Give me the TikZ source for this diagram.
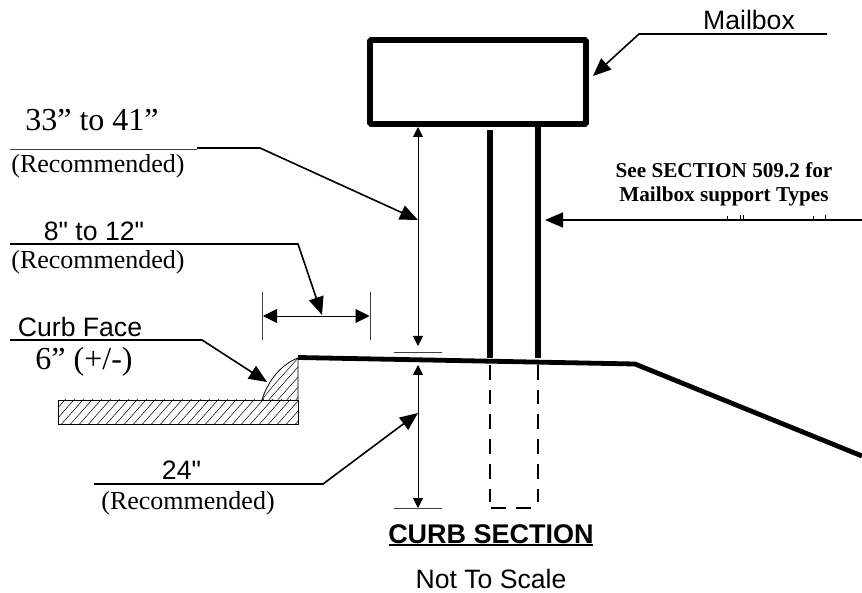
\documentclass[tikz,border=0pt]{standalone}
\usepackage{fontspec}
\setmainfont{Liberation Serif}
\newfontfamily\arial{Liberation Sans}
\usetikzlibrary{arrows.meta,patterns}
\tikzset{
  x=1pt,y=-1pt,
  heavy/.style={line width=5.4pt,line cap=butt},
  box/.style={line width=5.6pt,draw=black,rounded corners=1pt},
  leader/.style={line width=1.6pt,-{Triangle[width=15pt,length=18pt]}},
  dim/.style={line width=0.9pt,{Triangle[width=10pt,length=10pt]}-{Triangle[width=10pt,length=10pt]}},
  dimwide/.style={line width=0.9pt,{Triangle[width=14pt,length=14pt]}-{Triangle[width=14pt,length=14pt]}},
  tick/.style={line width=0.7pt,draw=black!75},
  hidden/.style={line width=2pt,dash pattern=on 14.7pt off 10pt},
  sans/.style={font=\arial\fontsize{26.6}{26.6}\selectfont,inner sep=0pt},
  serif/.style={font=\fontsize{26}{26}\selectfont,inner sep=0pt},
  serifbig/.style={font=\fontsize{32}{32}\selectfont,inner sep=0pt},
  note/.style={font=\bfseries\fontsize{21.2}{24.6}\selectfont,inner sep=0pt,align=center},
  hatchline/.style={line width=0.5pt},
}
\begin{document}
\begin{tikzpicture}
\useasboundingbox (0,0) rectangle (862,593);
% mailbox
\node[box,minimum width=216pt,minimum height=84pt,inner sep=0pt,outer sep=0pt,anchor=north west] (mailbox) at (370,40) {};
% posts
\coordinate (p1t) at (490,130); \coordinate (p1b) at (490,358);
\coordinate (p2t) at (538,124); \coordinate (p2b) at (538,358);
\draw[heavy] (p1t) -- (p1b);
\draw[heavy] (p2t) -- (p2b);
% ground
\coordinate (g0) at (298,357.5); \coordinate (g1) at (635,364); \coordinate (g2) at (862,456);
\draw[line width=4.8pt,line join=miter] (g0) -- (g1) -- (g2);
% hidden post
\coordinate (h1) at (490,365); \coordinate (h2) at (538,365);
\coordinate (h1b) at (490,502); \coordinate (h2b) at (538,502);
\coordinate (f1) at (490.7,508); \coordinate (f2) at (531,508);
\draw[hidden] (h1) -- (h1b);
\draw[hidden] (h2) -- (h2b);
\draw[line width=2pt,dash pattern=on 15.3pt off 9.7pt] (f1) -- (f2);
% curb
\coordinate (c0) at (58,400); \coordinate (c1) at (298,424); \coordinate (ct) at (298,358); \coordinate (cb) at (262,400);
\begin{scope}
\clip (58,400) rectangle (298,424);
\foreach \i in {0,...,30} \draw[hatchline] (40+\i*9,428) -- (72+\i*9,392);
\end{scope}
\begin{scope}
\clip (262,400) .. controls (272,386) and (286,372) .. (298,358) -- (298,400) -- cycle;
\foreach \i in {0,...,14} \draw[hatchline] (240+\i*9,412) -- (312+\i*9,331);
\end{scope}
\draw[line width=0.8pt] (c0) rectangle (c1);
\draw[line width=0.8pt] (cb) .. controls (268,380) and (282,364) .. (ct) -- (298,400);
\draw[line width=0.5pt] (cb) .. controls (272,386) and (286,372) .. (ct);
% dimension ticks
\coordinate (t1a) at (394,352); \coordinate (t1b) at (442,352);
\coordinate (t2a) at (394,508); \coordinate (t2b) at (442,508);
\draw[tick] (t1a) -- (t1b);
\draw[tick] (t2a) -- (t2b);
\coordinate (dA) at (418,127); \coordinate (dB) at (418,346);
\coordinate (dC) at (418,365); \coordinate (dD) at (418,508);
\draw[dim] (dA) -- (dB);
\draw[dim] (dC) -- (dD);
% 8-12 dimension
\coordinate (w1) at (262,292); \coordinate (w1b) at (262,340);
\coordinate (w2) at (370,292); \coordinate (w2b) at (370,340);
\draw[tick] (w1) -- (w1b);
\draw[tick] (w2) -- (w2b);
\coordinate (wa) at (263,316); \coordinate (wb) at (369.5,316);
\draw[dimwide] (wa) -- (wb);
% leaders
\coordinate (mS) at (827,34); \coordinate (mK) at (639,34); \coordinate (mE) at (593,76);
\draw[leader] (mS) -- (mK) -- (mE);
\coordinate (aS) at (197,148); \coordinate (aT) at (10,149); \coordinate (aK) at (260,148); \coordinate (aE) at (418,220);
\draw[tick] (aT) -- (aS |- aT);
\draw[leader] (aS) -- (aK) -- (aE);
\coordinate (bS) at (10,244); \coordinate (bK) at (298,244); \coordinate (bE) at (322,315);
\draw[leader] (bS) -- (bK) -- (bE);
\coordinate (cS) at (10,340); \coordinate (cK) at (202,340); \coordinate (cE) at (267,382);
\draw[leader] (cS) -- (cK) -- (cE);
\coordinate (eS) at (94,484); \coordinate (eK) at (323,484); \coordinate (eE) at (418,413);
\draw[leader] (eS) -- (eK) -- (eE);
\coordinate (sS) at (862,220); \coordinate (sE) at (545,220);
\draw[leader] (sS) -- (sE);
% clipped text remains above the support leader
\foreach \xa/\ya in {727/216,740/215,743/215,813/216,825/215}
  \draw[line width=1pt] (\xa,\ya) -- (\xa,219);
% labels
\node[sans] (lmail) at (749,20) {Mailbox};
\node[serifbig] (l33) at (92,120) {33” to 41”};
\node[serif] (lrec1) at (98,166) {(Recommended)};
\node[sans] (l8) at (94,231) {8" to 12"};
\node[serif] (lrec2) at (98,262) {(Recommended)};
\node[sans] (lcurb) at (80,327) {Curb Face};
\node[serifbig] (l6) at (84,362) {6” (+/-)};
\node[sans] (l24) at (181.5,470) {24"};
\node[serif] (lrec3) at (188,503) {(Recommended)};
\node[note] (lsee) at (724,184.5) {See SECTION 509.2 for\\Mailbox support Types};
\node[sans,font=\arial\bfseries\fontsize{27}{27}\selectfont] (ltitle) at (491,534) {CURB SECTION};
\draw[line width=1.8pt] (389,545) -- (593,545);
\node[sans] (lscale) at (491,579) {Not To Scale};
\end{tikzpicture}
\end{document}
